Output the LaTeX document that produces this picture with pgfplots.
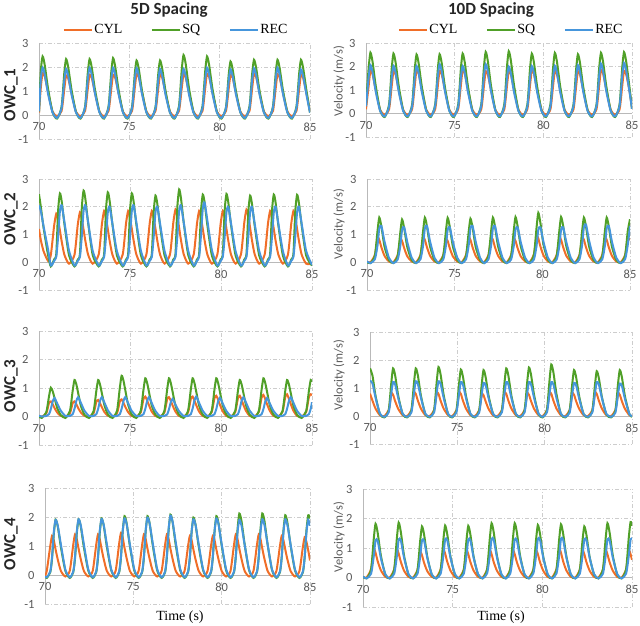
\documentclass[border=0pt]{standalone}
\usepackage{fontspec}
\setmainfont{Carlito}
\newfontfamily\tnr{Liberation Serif}
\usepackage{pgfplots}
\usepackage{pgfplotstable}
\pgfplotsset{compat=1.18}
\definecolor{cylc}{RGB}{240,110,40}
\definecolor{sqc}{RGB}{80,160,40}
\definecolor{recc}{RGB}{70,150,220}
\definecolor{tickc}{RGB}{89,89,89}
\definecolor{gridc}{RGB}{205,205,205}
\definecolor{axc}{RGB}{185,185,185}

\pgfplotstableread{
x c s r
70.00 0.10 0.15 0.15
70.10 1.14 1.83 1.49
70.20 1.75 2.44 1.98
70.32 1.61 2.07 1.68
70.50 0.96 1.10 0.89
70.75 0.14 0.12 0.10
71.00 -0.05 -0.15 -0.12
71.25 0.17 0.35 0.29
71.40 1.07 1.75 1.44
71.50 1.65 2.33 1.92
71.62 1.52 1.98 1.63
71.80 0.91 1.05 0.86
72.05 0.13 0.12 0.10
72.30 -0.05 -0.15 -0.12
72.55 0.17 0.35 0.30
72.70 1.09 1.75 1.48
72.80 1.68 2.33 1.97
72.92 1.55 1.98 1.67
73.10 0.92 1.05 0.89
73.35 0.13 0.12 0.10
73.60 -0.05 -0.15 -0.12
73.85 0.17 0.36 0.30
74.00 1.09 1.78 1.48
74.10 1.68 2.37 1.97
74.22 1.55 2.01 1.67
74.40 0.92 1.07 0.89
74.65 0.13 0.12 0.10
74.90 -0.05 -0.15 -0.12
75.15 0.17 0.34 0.29
75.30 1.12 1.70 1.46
75.40 1.72 2.27 1.95
75.52 1.58 1.93 1.66
75.70 0.95 1.02 0.88
75.95 0.14 0.11 0.10
76.20 -0.05 -0.15 -0.12
76.45 0.17 0.34 0.29
76.60 1.11 1.70 1.44
76.70 1.70 2.27 1.92
76.82 1.56 1.93 1.63
77.00 0.94 1.02 0.86
77.25 0.14 0.11 0.10
77.50 -0.05 -0.15 -0.12
77.75 0.17 0.38 0.29
77.90 1.11 1.88 1.44
78.00 1.70 2.50 1.92
78.12 1.56 2.13 1.63
78.30 0.94 1.13 0.86
78.55 0.14 0.13 0.10
78.80 -0.05 -0.15 -0.12
79.05 0.17 0.37 0.30
79.20 1.12 1.83 1.48
79.30 1.72 2.44 1.97
79.42 1.58 2.07 1.67
79.60 0.95 1.10 0.89
79.85 0.14 0.12 0.10
80.10 -0.05 -0.15 -0.12
80.35 0.17 0.33 0.29
80.50 1.09 1.67 1.43
80.60 1.68 2.23 1.90
80.72 1.55 1.90 1.62
80.90 0.92 1.00 0.86
81.15 0.13 0.11 0.10
81.40 -0.05 -0.15 -0.12
81.65 0.17 0.35 0.29
81.80 1.12 1.73 1.46
81.90 1.72 2.30 1.95
82.02 1.58 1.96 1.66
82.20 0.95 1.04 0.88
82.45 0.14 0.12 0.10
82.70 -0.05 -0.15 -0.12
82.95 0.17 0.35 0.30
83.10 1.11 1.73 1.48
83.20 1.70 2.30 1.97
83.32 1.56 1.96 1.67
83.50 0.94 1.04 0.89
83.75 0.14 0.12 0.10
84.00 -0.05 -0.15 -0.12
84.25 0.17 0.35 0.29
84.40 1.09 1.73 1.43
84.50 1.68 2.30 1.90
84.62 1.55 1.96 1.62
84.80 0.92 1.04 0.86
85.00 0.15 0.10 0.10
}\pA

\pgfplotstableread{
x c s r
70.00 0.18 0.39 0.31
70.15 1.18 1.94 1.55
70.25 1.82 2.59 2.06
70.37 1.67 2.20 1.75
70.55 1.00 1.17 0.93
70.80 0.15 0.13 0.10
71.05 -0.05 -0.15 -0.12
71.30 0.18 0.38 0.30
71.45 1.17 1.91 1.52
71.55 1.80 2.55 2.03
71.67 1.66 2.17 1.73
71.85 0.99 1.15 0.91
72.10 0.14 0.13 0.10
72.35 -0.05 -0.15 -0.12
72.60 0.19 0.38 0.30
72.75 1.20 1.88 1.52
72.85 1.85 2.51 2.02
72.97 1.70 2.13 1.72
73.15 1.02 1.13 0.91
73.40 0.15 0.13 0.10
73.65 -0.05 -0.15 -0.12
73.90 0.18 0.38 0.32
74.05 1.18 1.89 1.58
74.15 1.82 2.52 2.10
74.27 1.67 2.14 1.79
74.45 1.00 1.13 0.95
74.70 0.15 0.13 0.11
74.95 -0.05 -0.15 -0.12
75.20 0.19 0.38 0.30
75.35 1.20 1.91 1.52
75.45 1.85 2.55 2.02
75.57 1.70 2.17 1.72
75.75 1.02 1.15 0.91
76.00 0.15 0.13 0.10
76.25 -0.05 -0.15 -0.12
76.50 0.18 0.39 0.32
76.65 1.17 1.97 1.58
76.75 1.80 2.62 2.10
76.87 1.66 2.23 1.79
77.05 0.99 1.18 0.95
77.30 0.14 0.13 0.11
77.55 -0.05 -0.15 -0.12
77.80 0.18 0.40 0.30
77.95 1.18 1.99 1.50
78.05 1.82 2.65 2.00
78.17 1.67 2.25 1.70
78.35 1.00 1.19 0.90
78.60 0.15 0.13 0.10
78.85 -0.05 -0.15 -0.12
79.10 0.19 0.38 0.30
79.25 1.20 1.91 1.52
79.35 1.85 2.55 2.02
79.47 1.70 2.17 1.72
79.65 1.02 1.15 0.91
79.90 0.15 0.13 0.10
80.15 -0.05 -0.15 -0.12
80.40 0.18 0.39 0.30
80.55 1.18 1.94 1.52
80.65 1.82 2.58 2.03
80.77 1.67 2.19 1.73
80.95 1.00 1.16 0.91
81.20 0.15 0.13 0.10
81.45 -0.05 -0.15 -0.12
81.70 0.18 0.38 0.31
81.85 1.17 1.89 1.55
81.95 1.80 2.52 2.06
82.07 1.66 2.14 1.75
82.25 0.99 1.13 0.93
82.50 0.14 0.13 0.10
82.75 -0.05 -0.15 -0.12
83.00 0.19 0.39 0.32
83.15 1.20 1.94 1.59
83.25 1.85 2.58 2.12
83.37 1.70 2.19 1.80
83.55 1.02 1.16 0.95
83.80 0.15 0.13 0.11
84.05 -0.05 -0.15 -0.12
84.30 0.18 0.39 0.32
84.45 1.18 1.96 1.61
84.55 1.82 2.61 2.15
84.67 1.67 2.22 1.83
84.85 1.00 1.17 0.97
85.00 0.25 0.20 0.20
}\pB

\pgfplotstableread{
x c s r
70.00 1.20 2.45 2.05
70.10 0.80 2.00 1.85
70.25 0.40 1.25 1.30
70.50 0.05 0.25 0.45
70.65 0.26 -0.15 -0.12
70.83 1.31 0.10 0.05
70.95 1.75 0.30 0.20
71.05 1.52 1.86 0.92
71.15 1.14 2.48 1.85
71.25 0.74 2.18 2.05
71.40 0.26 1.36 1.44
71.65 -0.05 0.25 0.41
71.95 0.27 -0.15 -0.12
72.13 1.35 0.10 0.05
72.25 1.80 0.30 0.20
72.35 1.57 1.94 0.92
72.45 1.17 2.58 1.85
72.55 0.76 2.27 2.05
72.70 0.27 1.42 1.44
72.95 -0.05 0.26 0.41
73.28 0.28 -0.15 -0.12
73.46 1.39 0.10 0.05
73.58 1.85 0.30 0.20
73.68 1.61 1.89 0.90
73.78 1.20 2.52 1.80
73.88 0.78 2.22 2.00
74.03 0.28 1.39 1.40
74.28 -0.05 0.25 0.40
74.60 0.28 -0.15 -0.12
74.78 1.39 0.10 0.05
74.90 1.85 0.30 0.20
75.00 1.61 1.86 0.92
75.10 1.20 2.48 1.85
75.20 0.78 2.18 2.05
75.35 0.28 1.36 1.44
75.60 -0.05 0.25 0.41
75.90 0.28 -0.15 -0.12
76.08 1.39 0.10 0.05
76.20 1.85 0.30 0.20
76.30 1.61 1.80 0.90
76.40 1.20 2.40 1.80
76.50 0.78 2.11 2.00
76.65 0.28 1.32 1.40
76.90 -0.05 0.24 0.40
77.20 0.29 -0.15 -0.12
77.38 1.43 0.10 0.05
77.50 1.90 0.30 0.20
77.60 1.65 1.97 0.92
77.70 1.24 2.62 1.85
77.80 0.80 2.31 2.05
77.95 0.29 1.44 1.44
78.20 -0.05 0.26 0.41
78.50 0.28 -0.15 -0.12
78.68 1.39 0.10 0.05
78.80 1.85 0.30 0.20
78.90 1.61 1.83 0.97
79.00 1.20 2.44 1.94
79.10 0.78 2.15 2.15
79.25 0.28 1.34 1.51
79.50 -0.05 0.24 0.43
79.80 0.28 -0.15 -0.12
79.98 1.39 0.10 0.05
80.10 1.85 0.30 0.20
80.20 1.61 1.85 0.90
80.30 1.20 2.46 1.80
80.40 0.78 2.16 2.00
80.55 0.28 1.35 1.40
80.80 -0.05 0.25 0.40
81.10 0.29 -0.15 -0.12
81.28 1.43 0.10 0.05
81.40 1.90 0.30 0.20
81.50 1.65 1.80 0.90
81.60 1.24 2.40 1.80
81.70 0.80 2.11 2.00
81.85 0.29 1.32 1.40
82.10 -0.05 0.24 0.40
82.40 0.28 -0.15 -0.12
82.58 1.39 0.10 0.05
82.70 1.85 0.30 0.20
82.80 1.61 1.83 0.90
82.90 1.20 2.44 1.80
83.00 0.78 2.15 2.00
83.15 0.28 1.34 1.40
83.40 -0.05 0.24 0.40
83.68 0.28 -0.15 -0.12
83.86 1.39 0.10 0.05
83.98 1.85 0.30 0.20
84.08 1.61 1.82 0.90
84.18 1.20 2.43 1.80
84.28 0.78 2.14 2.00
84.43 0.28 1.34 1.40
84.68 -0.05 0.24 0.40
85.00 -0.05 -0.12 -0.10
}\pC

\pgfplotstableread{
x c s r
70.00 0.02 0.00 0.03
70.20 0.00 -0.03 -0.03
70.45 0.27 0.24 0.11
70.60 0.87 1.13 0.61
70.70 0.81 1.61 1.22
70.82 0.54 1.29 1.31
71.00 0.23 0.56 0.74
71.25 0.03 0.08 0.16
71.50 0.00 -0.03 -0.03
71.75 0.26 0.23 0.10
71.90 0.82 1.08 0.59
72.00 0.77 1.54 1.17
72.12 0.51 1.23 1.26
72.30 0.21 0.54 0.72
72.55 0.03 0.08 0.16
72.80 0.00 -0.03 -0.03
73.05 0.27 0.24 0.11
73.20 0.87 1.13 0.61
73.30 0.81 1.61 1.22
73.42 0.54 1.29 1.31
73.60 0.23 0.56 0.74
73.85 0.03 0.08 0.16
74.10 0.00 -0.03 -0.03
74.35 0.26 0.24 0.10
74.50 0.82 1.12 0.59
74.60 0.77 1.60 1.17
74.72 0.51 1.28 1.26
74.90 0.21 0.56 0.72
75.15 0.03 0.08 0.16
75.40 0.00 -0.03 -0.03
75.65 0.27 0.24 0.11
75.80 0.87 1.10 0.61
75.90 0.81 1.57 1.22
76.02 0.54 1.26 1.31
76.20 0.23 0.55 0.74
76.45 0.03 0.08 0.16
76.68 0.00 -0.03 -0.03
76.93 0.27 0.24 0.11
77.08 0.87 1.13 0.61
77.18 0.81 1.61 1.22
77.30 0.54 1.29 1.31
77.48 0.23 0.56 0.74
77.73 0.03 0.08 0.16
77.97 0.00 -0.03 -0.03
78.22 0.26 0.24 0.10
78.37 0.82 1.14 0.59
78.47 0.77 1.63 1.17
78.59 0.51 1.30 1.26
78.77 0.21 0.57 0.72
79.02 0.03 0.08 0.16
79.27 0.00 -0.03 -0.03
79.52 0.29 0.27 0.10
79.67 0.92 1.25 0.59
79.77 0.86 1.78 1.17
79.89 0.57 1.42 1.26
80.07 0.24 0.62 0.72
80.32 0.03 0.09 0.16
80.57 0.00 -0.03 -0.03
80.82 0.27 0.24 0.10
80.97 0.87 1.14 0.59
81.07 0.81 1.63 1.17
81.19 0.54 1.30 1.26
81.37 0.23 0.57 0.72
81.62 0.03 0.08 0.16
81.87 0.00 -0.03 -0.03
82.12 0.27 0.24 0.11
82.27 0.87 1.13 0.63
82.37 0.81 1.61 1.26
82.49 0.54 1.29 1.36
82.67 0.23 0.56 0.77
82.92 0.03 0.08 0.17
83.17 0.00 -0.03 -0.03
83.42 0.27 0.24 0.11
83.57 0.87 1.13 0.61
83.67 0.81 1.61 1.22
83.79 0.54 1.29 1.31
83.97 0.23 0.56 0.74
84.22 0.03 0.08 0.16
84.47 0.00 -0.03 -0.03
84.72 0.26 0.24 0.11
84.87 0.85 1.11 0.61
85.00 0.80 1.55 1.30
}\pD

\pgfplotstableread{
x c s r
70.00 0.02 0.00 0.03
70.15 0.00 -0.05 0.00
70.40 0.11 0.15 0.02
70.55 0.47 0.71 0.08
70.65 0.53 1.01 0.26
70.75 0.43 0.89 0.52
70.85 0.30 0.66 0.65
71.00 0.14 0.30 0.46
71.20 0.02 0.05 0.20
71.45 0.00 -0.05 0.02
71.70 0.11 0.19 0.02
71.85 0.47 0.90 0.08
71.95 0.53 1.28 0.27
72.05 0.43 1.13 0.54
72.15 0.30 0.83 0.68
72.30 0.14 0.38 0.48
72.50 0.02 0.06 0.20
72.75 0.00 -0.05 0.02
73.00 0.12 0.19 0.02
73.15 0.51 0.90 0.08
73.25 0.58 1.28 0.27
73.35 0.47 1.13 0.54
73.45 0.33 0.83 0.68
73.60 0.15 0.38 0.48
73.80 0.02 0.06 0.20
74.04 0.00 -0.05 0.02
74.29 0.12 0.21 0.02
74.44 0.53 1.00 0.08
74.54 0.60 1.43 0.27
74.64 0.48 1.26 0.54
74.74 0.34 0.93 0.68
74.89 0.16 0.43 0.48
75.09 0.02 0.07 0.20
75.34 0.00 -0.05 0.02
75.59 0.14 0.20 0.02
75.74 0.61 0.94 0.08
75.84 0.70 1.34 0.27
75.94 0.56 1.18 0.54
76.04 0.40 0.87 0.68
76.19 0.18 0.40 0.48
76.39 0.02 0.07 0.20
76.64 0.00 -0.05 0.02
76.89 0.14 0.20 0.02
77.04 0.60 0.94 0.07
77.14 0.68 1.34 0.25
77.24 0.55 1.18 0.50
77.34 0.39 0.87 0.62
77.49 0.18 0.40 0.43
77.69 0.02 0.07 0.19
77.94 0.00 -0.05 0.02
78.19 0.14 0.20 0.02
78.34 0.61 0.94 0.08
78.44 0.70 1.34 0.28
78.54 0.56 1.18 0.56
78.64 0.40 0.87 0.70
78.79 0.18 0.40 0.49
78.99 0.02 0.07 0.21
79.24 0.00 -0.05 0.02
79.49 0.15 0.20 0.02
79.64 0.64 0.94 0.08
79.74 0.73 1.34 0.26
79.84 0.59 1.18 0.53
79.94 0.41 0.87 0.66
80.09 0.19 0.40 0.46
80.29 0.02 0.07 0.20
80.53 0.00 -0.05 0.02
80.78 0.15 0.19 0.02
80.93 0.64 0.90 0.08
81.03 0.73 1.28 0.27
81.13 0.59 1.13 0.54
81.23 0.41 0.83 0.68
81.38 0.19 0.38 0.48
81.58 0.02 0.06 0.20
81.83 0.00 -0.05 0.02
82.08 0.16 0.20 0.02
82.23 0.66 0.94 0.08
82.33 0.76 1.34 0.26
82.43 0.61 1.18 0.52
82.53 0.43 0.87 0.65
82.68 0.20 0.40 0.46
82.88 0.02 0.07 0.20
83.13 0.00 -0.05 0.02
83.38 0.16 0.19 0.02
83.53 0.68 0.90 0.08
83.63 0.78 1.28 0.27
83.73 0.62 1.13 0.54
83.83 0.44 0.83 0.68
83.98 0.20 0.38 0.48
84.18 0.02 0.06 0.20
84.43 0.00 -0.05 0.02
84.68 0.16 0.19 0.02
84.83 0.68 0.90 0.08
84.93 0.78 1.28 0.27
85.00 0.75 1.22 0.50
}\pE

\pgfplotstableread{
x c s r
70.00 0.80 1.70 1.26
70.14 0.55 1.45 1.17
70.32 0.26 0.71 0.65
70.57 0.03 0.07 0.08
70.82 0.00 -0.05 -0.03
71.07 0.21 0.20 0.13
71.22 0.78 1.19 0.81
71.32 0.76 1.70 1.21
71.44 0.53 1.45 1.13
71.62 0.25 0.71 0.63
71.87 0.03 0.07 0.08
72.12 0.00 -0.05 -0.03
72.37 0.21 0.20 0.13
72.52 0.81 1.19 0.83
72.62 0.79 1.70 1.24
72.74 0.55 1.45 1.15
72.92 0.26 0.71 0.64
73.17 0.03 0.07 0.08
73.42 0.00 -0.05 -0.03
73.67 0.21 0.21 0.13
73.82 0.81 1.23 0.83
73.92 0.79 1.75 1.24
74.04 0.55 1.49 1.15
74.22 0.26 0.74 0.64
74.47 0.03 0.07 0.08
74.70 0.00 -0.05 -0.03
74.95 0.21 0.20 0.13
75.10 0.81 1.16 0.81
75.20 0.79 1.66 1.21
75.32 0.55 1.41 1.13
75.50 0.26 0.70 0.63
75.75 0.03 0.07 0.08
76.00 0.00 -0.05 -0.03
76.25 0.20 0.20 0.12
76.40 0.76 1.15 0.79
76.50 0.74 1.64 1.18
76.62 0.52 1.39 1.10
76.80 0.24 0.69 0.61
77.05 0.02 0.07 0.07
77.30 0.00 -0.05 -0.03
77.55 0.21 0.20 0.13
77.70 0.81 1.19 0.81
77.80 0.79 1.70 1.21
77.92 0.55 1.45 1.13
78.10 0.26 0.71 0.63
78.35 0.03 0.07 0.08
78.60 0.00 -0.05 -0.03
78.85 0.21 0.21 0.13
79.00 0.78 1.21 0.81
79.10 0.76 1.73 1.21
79.22 0.53 1.47 1.13
79.40 0.25 0.73 0.63
79.65 0.03 0.07 0.08
79.88 0.00 -0.05 -0.03
80.13 0.21 0.22 0.13
80.28 0.81 1.29 0.81
80.38 0.79 1.84 1.21
80.50 0.55 1.56 1.13
80.68 0.26 0.77 0.63
80.93 0.03 0.07 0.08
81.18 0.00 -0.05 -0.03
81.43 0.21 0.20 0.12
81.58 0.78 1.15 0.79
81.68 0.76 1.64 1.18
81.80 0.53 1.39 1.10
81.98 0.25 0.69 0.61
82.23 0.03 0.07 0.07
82.48 0.00 -0.05 -0.03
82.73 0.21 0.19 0.13
82.88 0.81 1.12 0.81
82.98 0.79 1.60 1.21
83.10 0.55 1.36 1.13
83.28 0.26 0.67 0.63
83.53 0.03 0.06 0.08
83.80 0.00 -0.05 -0.03
84.05 0.21 0.20 0.12
84.20 0.78 1.15 0.78
84.30 0.76 1.64 1.16
84.42 0.53 1.39 1.08
84.60 0.25 0.69 0.60
84.85 0.03 0.07 0.07
85.00 0.00 -0.03 0.00
}\pF

\pgfplotstableread{
x c s r
70.00 -0.02 -0.05 -0.05
70.10 0.14 -0.10 -0.08
70.30 1.01 0.10 0.12
70.40 1.35 0.57 0.63
70.50 1.19 1.43 1.48
70.60 0.88 1.91 1.90
70.72 0.54 1.68 1.71
70.90 0.14 0.96 1.05
71.15 -0.05 0.15 0.19
71.40 0.14 -0.10 -0.08
71.60 1.05 0.10 0.12
71.70 1.40 0.58 0.63
71.80 1.23 1.44 1.50
71.90 0.91 1.92 1.92
72.02 0.56 1.69 1.73
72.20 0.14 0.96 1.06
72.45 -0.05 0.15 0.19
72.70 0.14 -0.10 -0.08
72.90 1.05 0.10 0.12
73.00 1.40 0.59 0.64
73.10 1.23 1.46 1.51
73.20 0.91 1.95 1.93
73.32 0.56 1.72 1.74
73.50 0.14 0.98 1.06
73.75 -0.05 0.16 0.19
74.00 0.15 -0.10 -0.08
74.20 1.09 0.10 0.12
74.30 1.45 0.61 0.64
74.40 1.28 1.52 1.52
74.50 0.94 2.03 1.95
74.62 0.58 1.79 1.76
74.80 0.15 1.02 1.07
75.05 -0.05 0.16 0.20
75.30 0.14 -0.10 -0.08
75.50 1.05 0.10 0.12
75.60 1.40 0.61 0.65
75.70 1.23 1.52 1.54
75.80 0.91 2.03 1.98
75.92 0.56 1.79 1.78
76.10 0.14 1.02 1.09
76.35 -0.05 0.16 0.20
76.60 0.14 -0.10 -0.08
76.80 1.05 0.10 0.12
76.90 1.40 0.62 0.68
77.00 1.23 1.56 1.60
77.10 0.91 2.08 2.05
77.22 0.56 1.83 1.85
77.40 0.14 1.04 1.13
77.65 -0.05 0.17 0.21
77.90 0.14 -0.10 -0.08
78.10 1.01 0.10 0.12
78.20 1.35 0.59 0.63
78.30 1.19 1.49 1.50
78.40 0.88 1.98 1.92
78.52 0.54 1.74 1.73
78.70 0.14 0.99 1.06
78.95 -0.05 0.16 0.19
79.20 0.14 -0.10 -0.08
79.40 1.01 0.10 0.12
79.50 1.35 0.61 0.64
79.60 1.19 1.52 1.52
79.70 0.88 2.03 1.95
79.82 0.54 1.79 1.76
80.00 0.14 1.02 1.07
80.25 -0.05 0.16 0.20
80.50 0.14 -0.10 -0.08
80.70 1.05 0.10 0.12
80.80 1.40 0.64 0.63
80.90 1.23 1.59 1.48
81.00 0.91 2.12 1.90
81.12 0.56 1.87 1.71
81.30 0.14 1.06 1.05
81.55 -0.05 0.17 0.19
81.80 0.14 -0.10 -0.08
82.00 1.05 0.10 0.12
82.10 1.40 0.64 0.63
82.20 1.23 1.59 1.50
82.30 0.91 2.12 1.92
82.42 0.56 1.87 1.73
82.60 0.14 1.06 1.06
82.85 -0.05 0.17 0.19
83.10 0.14 -0.10 -0.08
83.30 1.01 0.10 0.12
83.40 1.35 0.62 0.63
83.50 1.19 1.55 1.50
83.60 0.88 2.06 1.92
83.72 0.54 1.81 1.73
83.90 0.14 1.03 1.06
84.15 -0.05 0.16 0.19
84.40 0.13 -0.10 -0.08
84.60 0.98 0.10 0.12
84.70 1.30 0.62 0.63
84.80 1.14 1.55 1.48
84.90 0.85 2.06 1.90
85.00 0.50 1.95 1.70
}\pG

\pgfplotstableread{
x c s r
70.00 0.02 0.02 0.03
70.20 0.00 -0.03 -0.03
70.45 0.29 0.27 0.13
70.60 0.95 1.31 0.72
70.70 0.84 1.82 1.26
70.82 0.55 1.51 1.24
71.00 0.24 0.73 0.65
71.25 0.02 0.09 0.10
71.49 0.00 -0.03 -0.03
71.74 0.28 0.28 0.13
71.89 0.92 1.34 0.73
71.99 0.81 1.86 1.29
72.11 0.53 1.54 1.26
72.29 0.23 0.74 0.67
72.54 0.02 0.09 0.11
72.79 0.00 -0.03 -0.03
73.04 0.26 0.26 0.13
73.19 0.85 1.25 0.72
73.29 0.75 1.73 1.26
73.41 0.49 1.44 1.24
73.59 0.21 0.69 0.65
73.84 0.02 0.09 0.10
74.08 0.00 -0.03 -0.03
74.33 0.28 0.26 0.13
74.48 0.92 1.27 0.73
74.58 0.81 1.76 1.29
74.70 0.53 1.46 1.26
74.88 0.23 0.70 0.67
75.13 0.02 0.09 0.11
75.37 0.00 -0.03 -0.03
75.62 0.27 0.26 0.13
75.77 0.90 1.26 0.73
75.87 0.79 1.75 1.29
75.99 0.52 1.45 1.26
76.17 0.23 0.70 0.67
76.42 0.02 0.09 0.11
76.67 0.00 -0.03 -0.03
76.92 0.27 0.28 0.14
77.07 0.90 1.32 0.74
77.17 0.79 1.84 1.31
77.29 0.52 1.53 1.28
77.47 0.23 0.74 0.68
77.72 0.02 0.09 0.11
77.96 0.00 -0.03 -0.03
78.21 0.27 0.28 0.13
78.36 0.90 1.32 0.73
78.46 0.79 1.84 1.29
78.58 0.52 1.53 1.26
78.76 0.23 0.74 0.67
79.01 0.02 0.09 0.11
79.25 0.00 -0.03 -0.03
79.50 0.27 0.27 0.14
79.65 0.90 1.28 0.74
79.75 0.79 1.78 1.31
79.87 0.52 1.48 1.28
80.05 0.23 0.71 0.68
80.30 0.02 0.09 0.11
80.54 0.00 -0.03 -0.03
80.79 0.29 0.27 0.14
80.94 0.95 1.30 0.74
81.04 0.84 1.80 1.31
81.16 0.55 1.49 1.28
81.34 0.24 0.72 0.68
81.59 0.02 0.09 0.11
81.84 0.00 -0.03 -0.03
82.09 0.27 0.26 0.13
82.24 0.90 1.25 0.73
82.34 0.79 1.73 1.29
82.46 0.52 1.44 1.26
82.64 0.23 0.69 0.67
82.89 0.02 0.09 0.11
83.13 0.00 -0.03 -0.03
83.38 0.27 0.28 0.13
83.53 0.90 1.32 0.73
83.63 0.79 1.84 1.29
83.75 0.52 1.53 1.26
83.93 0.23 0.74 0.67
84.18 0.02 0.09 0.11
84.42 0.00 -0.03 -0.03
84.67 0.27 0.28 0.13
84.82 0.90 1.35 0.73
84.92 0.79 1.88 1.29
85.00 0.60 1.75 1.30
}\pH

\pgfplotsset{
  owc/.style={
    scale only axis,
    anchor=south west,
    xmin=70, xmax=85, ymin=-1, ymax=3,
    xtick={70,75,80,85}, ytick={-1,0,1,2,3},
    axis x line*=middle, axis y line*=left,
    hide obscured x ticks=false, hide obscured y ticks=false,
    axis line style={draw=axc, line width=0.9pt},
    major tick length=0pt,
    grid=major,
    grid style={draw=gridc, line width=0.6pt, dash pattern=on 4pt off 2pt on 1pt off 2pt},
    tick label style={font=\fontsize{12.5}{13}\selectfont, text=tickc},
    /pgf/number format/assume math mode=true,
    xticklabel style={yshift=-4pt},
    yticklabel style={xshift=-7pt},
    no markers,
  },
  cyl/.style={color=cylc, line width=2pt, smooth, tension=0.4},
  sq/.style={color=sqc, line width=2pt, smooth, tension=0.4},
  rec/.style={color=recc, line width=2pt, smooth, tension=0.4},
  toplegend/.style={
    legend style={draw=none, fill=none, at={(0.5,1)}, anchor=center, yshift=13pt,
      legend columns=3, font=\tnr\fontsize{14}{14}\selectfont,
      nodes={inner xsep=1.5pt, inner ysep=0pt},
      /tikz/every even column/.append style={column sep=27pt}},
    legend image code/.code={\draw[##1, line width=2pt] (0pt,0pt) -- (28pt,0pt);},
  },
}

\begin{document}
\begin{tikzpicture}[x=1pt,y=1pt]
\useasboundingbox (0,0) rectangle (640,626);

% Row 1
\begin{axis}[owc, toplegend, legend style={xshift=1.5pt}, at={(39pt,487pt)}, width=271pt, height=96pt]
\addplot[cyl] table[x=x,y=c]{\pA}; \addlegendentry{CYL}
\addplot[sq] table[x=x,y=s]{\pA}; \addlegendentry{SQ}
\addplot[rec] table[x=x,y=r]{\pA}; \addlegendentry{REC}
\end{axis}
\begin{axis}[owc, toplegend, legend style={xshift=12pt}, at={(366pt,489pt)}, width=266pt, height=94pt]
\addplot[cyl] table[x=x,y=c]{\pB}; \addlegendentry{CYL}
\addplot[sq] table[x=x,y=s]{\pB}; \addlegendentry{SQ}
\addplot[rec] table[x=x,y=r]{\pB}; \addlegendentry{REC}
\end{axis}

% Row 2
\begin{axis}[owc, at={(39pt,336pt)}, width=273pt, height=111pt]
\addplot[cyl] table[x=x,y=c]{\pC};
\addplot[sq] table[x=x,y=s]{\pC};
\addplot[rec] table[x=x,y=r]{\pC};
\end{axis}
\begin{axis}[owc, at={(367pt,336pt)}, width=263pt, height=111pt]
\addplot[cyl] table[x=x,y=c]{\pD};
\addplot[sq] table[x=x,y=s]{\pD};
\addplot[rec] table[x=x,y=r]{\pD};
\end{axis}

% Row 3
\begin{axis}[owc, at={(39pt,181pt)}, width=273pt, height=114pt]
\addplot[cyl] table[x=x,y=c]{\pE};
\addplot[sq] table[x=x,y=s]{\pE};
\addplot[rec] table[x=x,y=r]{\pE};
\end{axis}
\begin{axis}[owc, at={(370pt,182pt)}, width=262pt, height=112pt]
\addplot[cyl] table[x=x,y=c]{\pF};
\addplot[sq] table[x=x,y=s]{\pF};
\addplot[rec] table[x=x,y=r]{\pF};
\end{axis}

% Row 4
\begin{axis}[owc, at={(45pt,22pt)}, width=265pt, height=116pt]
\addplot[cyl] table[x=x,y=c]{\pG};
\addplot[sq] table[x=x,y=s]{\pG};
\addplot[rec] table[x=x,y=r]{\pG};
\end{axis}
\begin{axis}[owc, at={(363pt,19pt)}, width=269pt, height=118pt]
\addplot[cyl] table[x=x,y=c]{\pH};
\addplot[sq] table[x=x,y=s]{\pH};
\addplot[rec] table[x=x,y=r]{\pH};
\end{axis}

% Titles
\node[font=\bfseries\fontsize{17}{17}\selectfont, text=black!85] at (169,616) {5D Spacing};
\node[font=\bfseries\fontsize{17}{17}\selectfont, text=black!85] at (491,616) {10D Spacing};

% Row labels
\foreach \yy/\lab in {531/1, 407/2, 240/3, 82/4}{
  \node[rotate=90, font=\bfseries\fontsize{17}{17}\selectfont, text=black!85] at (11,\yy) {OWC\_\lab};
}
\foreach \yy in {545, 402, 251, 89}{
  \node[rotate=90, font=\fontsize{12.5}{13}\selectfont, text=tickc] at (339,\yy) {Velocity (m/s)};
}

% x labels
\node[font=\tnr\fontsize{14}{14}\selectfont] at (180,9) {Time (s)};
\node[font=\tnr\fontsize{14}{14}\selectfont] at (501,9) {Time (s)};
\end{tikzpicture}
\end{document}
